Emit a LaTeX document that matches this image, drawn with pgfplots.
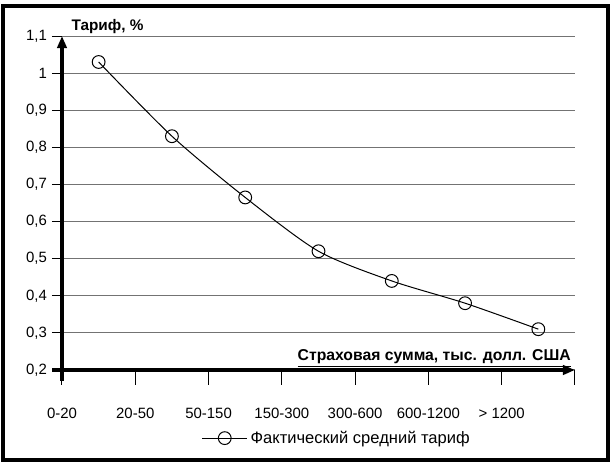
\documentclass[border=0pt]{standalone}
\usepackage{pgfplots}
\pgfplotsset{compat=1.18}
\usepackage{fontspec}
\setmainfont{Liberation Sans}
\usetikzlibrary{arrows.meta}

% average tariff by sum insured band
\pgfplotstableread{
x    y
0.5  1.03
1.5  0.83
2.5  0.665
3.5  0.52
4.5  0.44
5.5  0.38
6.5  0.31
}\tariff

\begin{document}
\fontsize{11pt}{13pt}\selectfont
\begin{tikzpicture}
% page frame (1 unit = 0.75pt)
\begin{scope}[x=0.75pt,y=0.75pt]
  \useasboundingbox (-62,-94) rectangle (549,370);
  \draw[line width=3pt] (-58.5,-90.5) rectangle (545.5,363.5);
\end{scope}
\begin{axis}[
  at={(0,0)}, anchor=origin,
  scale only axis,
  width=384.75pt, height=250.5pt,
  xmin=0, xmax=7, ymin=0.2, ymax=1.1,
  axis lines=left,
  axis line style={line width=2.6pt},
  x axis line style={-{Triangle[length=9pt,width=7pt]}},
  y axis line style={-{Triangle[length=9pt,width=7pt]}},
  xtick={0,1,2,3,4,5,6,7},
  xticklabels={0-20,20-50,50-150,150-300,300-600,600-1200,{> 1200},{}},
  ytick={0.2,0.3,0.4,0.5,0.6,0.7,0.8,0.9,1.0,1.1},
  tick align=outside,
  major tick length=7.5pt,
  xtick style={black, line width=0.75pt, /pgfplots/major tick length=11.25pt},
  ytick style={black, line width=0.75pt},
  xticklabel style={yshift=-17.5pt, font=\fontsize{11.2pt}{13pt}\selectfont},
  yticklabel style={font=\fontsize{11.2pt}{13pt}\selectfont},
  /pgf/number format/use comma,
  /pgf/number format/assume math mode=true,
  ymajorgrids,
  grid style={line width=0.75pt, black!55},
  clip=false,
  legend style={at={(rel axis cs:0.536,-0.204)}, anchor=center,
    draw=none, fill=none, font=\fontsize{12.4pt}{14pt}\selectfont,
    /tikz/every even column/.append style={column sep=4pt}},
  legend image code/.code={
    \draw[#1] (0pt,0pt) -- (34pt,0pt);
    \draw[#1, only marks] plot coordinates {(17pt,0pt)};
  },
]
\addplot[black, line width=0.75pt, smooth, tension=0.45,
  mark=o, mark size=4.8pt,
  mark options={fill=white, line width=0.75pt, solid}]
  table[x=x, y=y] {\tariff};
\addlegendentry{Фактический средний тариф}

% axis stubs past the origin
\draw[line width=2.6pt] (axis cs:0,0.2) -- ++(0pt,-8pt);
\draw[line width=2.6pt] (axis cs:0,0.2) -- ++(-7.5pt,0pt);

\node[anchor=base west, font=\bfseries\fontsize{11.5pt}{13pt}\selectfont, inner sep=0pt]
  at ([xshift=7pt, yshift=4pt]axis cs:0,1.1) {Тариф, \%};
\node[anchor=base east, font=\bfseries\fontsize{11.8pt}{14pt}\selectfont, inner sep=0pt]
  at ([xshift=-3pt, yshift=7pt]axis cs:7,0.2) {\underline{Страховая сумма, тыс. долл. США}};
\end{axis}
\end{tikzpicture}
\end{document}
